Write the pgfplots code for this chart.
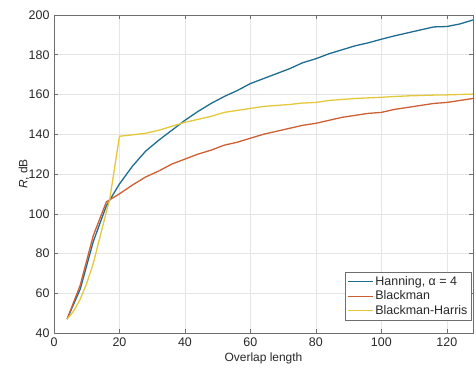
\documentclass[border=0pt]{standalone}
\usepackage{pgfplots}
\pgfplotsset{compat=1.18}
\usepackage{fontspec}
\setmainfont{Liberation Sans}
\definecolor{cBlue}{RGB}{30,108,145}
\definecolor{cRed}{RGB}{205,95,50}
\definecolor{cYel}{RGB}{228,200,60}
\definecolor{axgray}{RGB}{110,110,110}
\definecolor{txtgray}{RGB}{40,40,40}
\begin{document}
\begin{tikzpicture}
\useasboundingbox (-54bp,-38bp) rectangle (422bp,333bp);
\begin{axis}[
  at={(0,0)}, anchor=south west,
  scale only axis, width=419bp, height=318bp,
  xmin=0, xmax=128, ymin=40, ymax=200,
  xtick={0,20,...,120}, ytick={40,60,...,200},
  grid=major, major grid style={draw=black!10, line width=0.5pt},
  axis line style={draw=axgray, line width=0.6pt},
  tick style={draw=axgray, line width=0.5pt},
  tick align=inside, major tick length=4bp,
  xtick pos=both, ytick pos=both,
  ticklabel style={font=\fontsize{12.5}{14}\selectfont, text=txtgray},
  xticklabel style={yshift=-1.5bp},
  yticklabel style={xshift=-1bp},
  /pgf/number format/assume math mode=true,
  xlabel={Overlap length}, ylabel={\textit{R}, dB},
  label style={font=\fontsize{12}{14}\selectfont, text=txtgray},
  xlabel style={yshift=1bp},
  ylabel style={yshift=-7bp},
  legend style={at={(rel axis cs:0.997,0.04)}, anchor=south east,
    font=\fontsize{12.5}{16}\selectfont, draw=axgray, line width=0.6pt,
    row sep=0bp, inner sep=2bp, text=txtgray},
  legend cell align=left,
  legend image code/.code={\draw[#1, line width=1.3pt] (0cm,0cm) -- (25bp,0cm);},
  every axis plot/.append style={line width=1.3pt, line join=round},
]
\addplot[cBlue] coordinates {
(4,47) (8,62) (12,86) (16,104) (20,115) (24,124) (28,131.5) (32,137) (36,142)
(40,147) (44,151.5) (48,155.5) (52,159) (56,162) (60,165.5) (64,168) (68,170.5)
(72,173) (76,176) (80,178) (84,180.5) (88,182.5) (92,184.5) (96,186) (100,187.8)
(104,189.5) (108,191) (112,192.5) (116,194) (120,194.2) (124,195.5) (128,197.5)};
\addlegendentry{Hanning, α = 4}
\addplot[cRed] coordinates {
(4,47) (8,64) (12,89) (16,106) (18,108) (20,110) (24,114.5) (28,118.5) (32,121.5)
(36,125) (40,127.5) (44,130) (48,132) (52,134.5) (56,136) (60,138) (64,140)
(68,141.5) (72,143) (76,144.5) (80,145.5) (84,147) (88,148.5) (92,149.5) (96,150.5)
(100,151) (104,152.5) (108,153.5) (112,154.5) (116,155.5) (120,156) (124,157) (128,158)};
\addlegendentry{Blackman}
\addplot[cYel] coordinates {
(4,47) (6,51) (8,57) (10,65) (12,75) (14,88) (16,101) (17,107) (20,139) (24,139.7)
(28,140.5) (32,142) (36,144) (40,146) (44,147.5) (48,149) (52,151) (56,152) (60,153)
(64,154) (68,154.5) (72,155) (76,155.7) (80,156) (84,157) (88,157.5) (92,158)
(96,158.3) (100,158.6) (104,159) (108,159.3) (112,159.5) (116,159.7) (120,159.8)
(124,160) (128,160.2)};
\addlegendentry{Blackman-Harris}
\end{axis}
\end{tikzpicture}
\end{document}
